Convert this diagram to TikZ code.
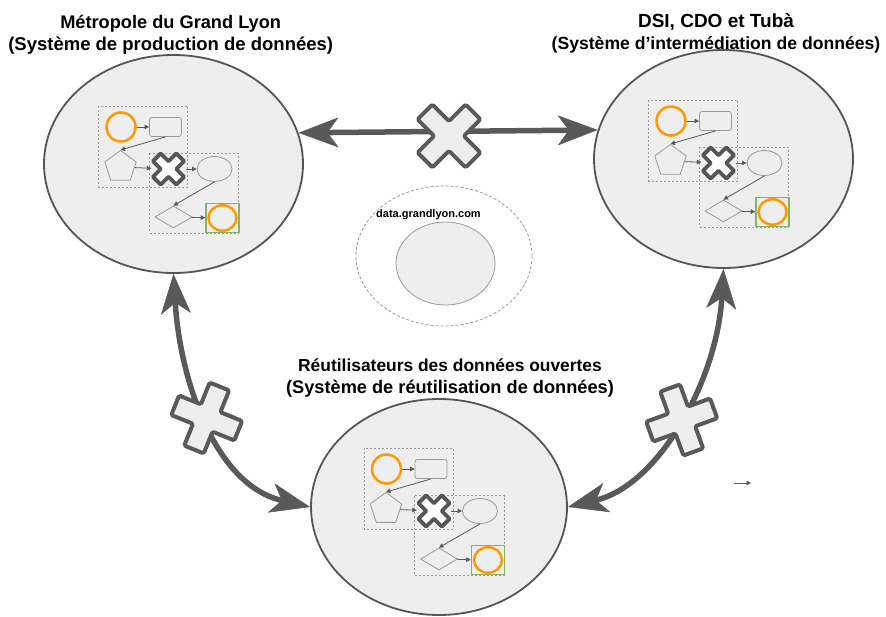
\documentclass[tikz,border=0pt]{standalone}
\usepackage{fontspec}
\setmainfont{Liberation Sans}
\usetikzlibrary{shapes.geometric,arrows.meta}
\definecolor{ellfill}{HTML}{EEEEEE}
\definecolor{ellline}{HTML}{555555}
\definecolor{arrgray}{HTML}{595959}
\definecolor{boxgray}{HTML}{999999}
\definecolor{shapegray}{HTML}{999999}
\definecolor{sarrgray}{HTML}{5A5A5A}
\definecolor{orng}{HTML}{FF9900}
\definecolor{grn}{HTML}{82B366}
\newcommand\plusshape[2]{(#2,#1) -- (#2,#2) -- (#1,#2) -- (#1,-#2) -- (#2,-#2) -- (#2,-#1) -- (-#2,-#1) -- (-#2,-#2) -- (-#1,-#2) -- (-#1,#2) -- (-#2,#2) -- (-#2,#1) -- cycle}
\newcommand\fsz[1]{\fontsize{#1}{22}\selectfont}
\tikzset{
  bigell/.style={ellipse,draw=ellline,fill=ellfill,line width=1.8pt,inner sep=0pt},
  dbox/.style={draw=boxgray,line width=0.8pt,dash pattern=on 2pt off 2pt},
  ocirc/.style={circle,draw=orng,line width=2.5pt,minimum size=29pt,inner sep=0pt},
  rbox/.style={rectangle,rounded corners=2.5pt,draw=shapegray,line width=0.8pt,minimum width=32pt,minimum height=19pt,inner sep=0pt},
  pent/.style={regular polygon,regular polygon sides=5,draw=shapegray,line width=0.8pt,minimum size=33pt,inner sep=0pt},
  sell/.style={ellipse,draw=shapegray,line width=0.8pt,minimum width=35pt,minimum height=25pt,inner sep=0pt},
  dia/.style={diamond,draw=shapegray,line width=0.8pt,minimum width=37pt,minimum height=22pt,inner sep=0pt},
  gbox/.style={rectangle,draw=grn,line width=1.5pt,minimum width=33pt,minimum height=29pt,inner sep=0pt},
  oell/.style={ellipse,draw=orng,line width=2.5pt,minimum width=28pt,minimum height=25.5pt,inner sep=0pt},
  xslot/.style={rectangle,minimum size=34pt,inner sep=0pt},
  sarr/.style={draw=sarrgray,line width=0.8pt,-{Triangle[length=4.5pt,width=4.5pt]}},
  bigarr/.style={draw=arrgray,line width=5.5pt,{Stealth[length=40pt,width=30pt,inset=11pt,line width=0.5pt]}-{Stealth[length=40pt,width=30pt,inset=11pt,line width=0.5pt]}},
  bigcross/.style={draw=arrgray,fill=ellfill,line width=4pt,line join=round,rounded corners=1.5pt},
  smallcross/.style={draw=ellline,fill=white,line width=3.8pt,line join=round},
  ttl/.style={font=\bfseries\fontsize{18.2}{22}\selectfont,align=center,inner sep=0pt,anchor=base},
  minidiag/.pic={
    \draw[dbox] (-75,-58) rectangle (14,23);
    \draw[dbox] (-24.5,-10.5) rectangle (65,69);
    \node[ocirc] (-c) at (-52.5,-37) {};
    \node[rbox] (-r) at (-8,-37) {};
    \node[pent] (-p) at (-53,3) {};
    \node[xslot] (-x) at (-5,5) {};
    \node[sell] (-e) at (41,5) {};
    \node[dia] (-d) at (0,53) {};
    \node[gbox] (-g) at (49,54) {};
    \node[oell] (-o) at (49,54) {};
    \begin{scope}[shift={(-5,5)},rotate=45]
      \draw[smallcross] \plusshape{16.5}{5.5};
    \end{scope}
    \draw[sarr] (-c) -- (-r);
    \draw[sarr] (-r.south) -- (-p.north);
    \draw[sarr] (-p) -- (-x);
    \draw[sarr] (-x) -- (-e);
    \draw[sarr] (-e.south) -- (-d.north);
    \draw[sarr] (-d) -- (-g);
  }
}
\begin{document}
\begin{tikzpicture}[x=1pt,y=-1pt]
\useasboundingbox (0,0) rectangle (886,617);
% titles (base anchor = last line baseline)
\node[ttl] (t1) at (170.7,50.5) {{\fsz{18.2}Métropole du Grand Lyon}\\{\fsz{18.5}(Système de production de données)}};
\node[ttl] (t2) at (716,50) {{\fsz{19}DSI, CDO et Tubà}\\{\fsz{17.6}(Système d’intermédiation de données)}};
\node[ttl] (t3) at (450,394) {{\fsz{17.4}Réutilisateurs des données ouvertes}\\{\fsz{18.2}(Système de réutilisation de données)}};
% big ellipses
\node[bigell,minimum width=259pt,minimum height=218pt] (e1) at (173.5,164) {};
\node[bigell,minimum width=259pt,minimum height=218pt] (e2) at (723.5,159) {};
\node[bigell,minimum width=256pt,minimum height=216pt] (e3) at (439,507) {};
% data.grandlyon.com
\node[ellipse,draw=boxgray,line width=0.8pt,dash pattern=on 3pt off 2pt,minimum width=176pt,minimum height=140pt,inner sep=0pt] (dgl) at (444,256) {};
\node[ellipse,draw=shapegray,fill=ellfill,line width=0.8pt,minimum width=99pt,minimum height=83pt,inner sep=0pt] (dgli) at (445.5,263.5) {};
\node[font=\bfseries\fontsize{11}{13}\selectfont,anchor=base,inner sep=0pt] (dglt) at (428.5,217.5) {data.grandlyon.com};
% inner diagrams
\pic (m1) at (173.5,164) {minidiag};
\pic (m2) at (723.5,158) {minidiag};
\pic (m3) at (439,506) {minidiag};
% main connectors
\draw[bigarr] (e1.14) -- (e2.167);
\draw[bigarr] (e1.south) .. controls (180,380) and (215,485) .. (e3.west);
\draw[bigarr] (e2.south) .. controls (717,380) and (659,485) .. (e3.east);
% crosses
\begin{scope}[shift={(449,136)},rotate=45]
  \draw[bigcross] \plusshape{34}{10.5};
\end{scope}
\begin{scope}[shift={(206.7,418)},rotate=-22]
  \draw[bigcross] \plusshape{34}{10.5};
\end{scope}
\begin{scope}[shift={(681.7,420)},rotate=20]
  \draw[bigcross] \plusshape{34}{10.5};
\end{scope}
% small arrow
\coordinate (s1) at (734,483);
\coordinate (s2) at (751,483);
\draw[sarr] (s1) -- (s2);
\end{tikzpicture}
\end{document}
